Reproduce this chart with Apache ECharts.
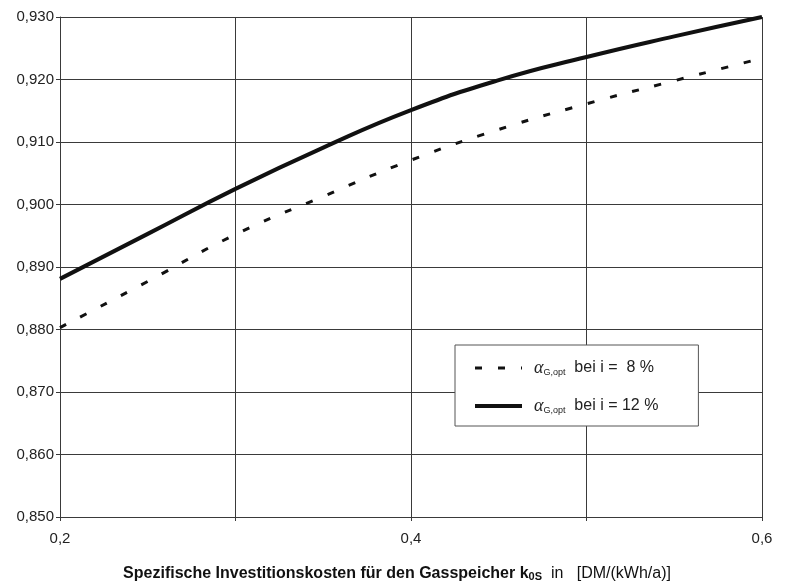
<!DOCTYPE html>
<html>
<head>
<meta charset="utf-8">
<script src="https://cdn.jsdelivr.net/npm/echarts@6/dist/echarts.min.js"></script>
<style>
  html, body { margin: 0; padding: 0; background: #fff; }
  #chart { width: 788px; height: 581px; }
</style>
</head>
<body>
<div id="chart"></div>
<script>
// x: spezifische Investitionskosten k0S [DM/(kWh/a)]
const kosten = [0.2, 0.25, 0.3, 0.35, 0.4, 0.45, 0.5, 0.55, 0.6];
// alpha G,opt bei i = 8 %
const alpha8 = [0.8803, 0.8877, 0.8952, 0.9013, 0.9071, 0.9120, 0.9161, 0.9198, 0.9234];
// alpha G,opt bei i = 12 %
const alpha12 = [0.8881, 0.8953, 0.9025, 0.9091, 0.9151, 0.9199, 0.9236, 0.9269, 0.9300];
const legendNames = ['i8', 'i12'];

const komma = (v, d) => v.toFixed(d).replace('.', ',');
const gridColor = '#3a3a3a';
const font = 'Liberation Sans, Arial, sans-serif';

const chart = echarts.init(document.getElementById('chart'));
chart.setOption({
  backgroundColor: '#fff',
  animation: false,
  grid: { left: 60, right: 26, top: 17, bottom: 64, containLabel: false, outerBoundsMode: 'none' },
  legend: {
    orient: 'vertical',
    left: 455,
    top: 345,
    padding: [14, 40, 11, 18],
    itemWidth: 47,
    itemHeight: 14,
    itemGap: 20,
    backgroundColor: '#fff',
    borderColor: '#555',
    borderWidth: 1,
    itemStyle: { opacity: 0 },
    lineStyle: { width: 'inherit', type: 'inherit' },
    data: legendNames,
    formatter: (name) => (name === 'i8'
      ? '{a|α}{s|G,opt}{t|  bei i =  8 %}'
      : '{a|α}{s|G,opt}{t|  bei i = 12 %}'),
    textStyle: {
      color: '#222',
      rich: {
        a: { fontFamily: 'Liberation Serif, serif', fontStyle: 'italic', fontSize: 18, color: '#222', padding: [0, 0, 0, 7] },
        s: { fontFamily: font, fontSize: 9, color: '#222', padding: [9, 0, 0, 0] },
        t: { fontFamily: font, fontSize: 16, color: '#222' },
      },
    },
  },
  xAxis: {
    type: 'value',
    min: 0.2,
    max: 0.6,
    interval: 0.1,
    axisLine: { show: true, lineStyle: { color: gridColor } },
    axisTick: { show: true, length: 4, lineStyle: { color: gridColor } },
    axisLabel: {
      color: '#222',
      fontFamily: font,
      fontSize: 15,
      margin: 14,
      formatter: (v) => (Math.round(v * 10) % 2 === 0 ? komma(v, 1) : ''),
    },
    splitLine: { show: true, lineStyle: { color: gridColor, width: 1 } },
    name: '{b|Spezifische Investitionskosten für den Gasspeicher k}{bs|0S}{r|  in   [DM/(kWh/a)]}',
    nameLocation: 'middle',
    nameGap: 48,
    nameTextStyle: {
      padding: [0, 28, 0, 0],
      rich: {
        b: { fontFamily: font, fontWeight: 'bold', fontSize: 16, color: '#111' },
        bs: { fontFamily: font, fontWeight: 'bold', fontSize: 11, color: '#111', padding: [6, 0, 0, 0] },
        r: { fontFamily: font, fontSize: 16, color: '#111' },
      },
    },
  },
  yAxis: {
    type: 'value',
    min: 0.85,
    max: 0.93,
    interval: 0.01,
    axisLine: { show: true, lineStyle: { color: gridColor } },
    axisTick: { show: true, length: 4, lineStyle: { color: gridColor } },
    axisLabel: {
      color: '#222',
      fontFamily: font,
      fontSize: 15,
      margin: 6,
      formatter: (v) => komma(v, 3),
    },
    splitLine: { show: true, lineStyle: { color: gridColor, width: 1 } },
  },
  series: [
    {
      name: 'i8',
      type: 'line',
      smooth: 0.5,
      symbol: 'none',
      data: kosten.map((x, i) => [x, alpha8[i]]),
      lineStyle: { color: '#111', width: 3, type: [7, 16] },
      itemStyle: { color: '#111' },
      z: 3,
    },
    {
      name: 'i12',
      type: 'line',
      smooth: 0.5,
      symbol: 'none',
      data: kosten.map((x, i) => [x, alpha12[i]]),
      lineStyle: { color: '#111', width: 4 },
      itemStyle: { color: '#111' },
      z: 4,
    },
  ],
});
</script>
</body>
</html>
